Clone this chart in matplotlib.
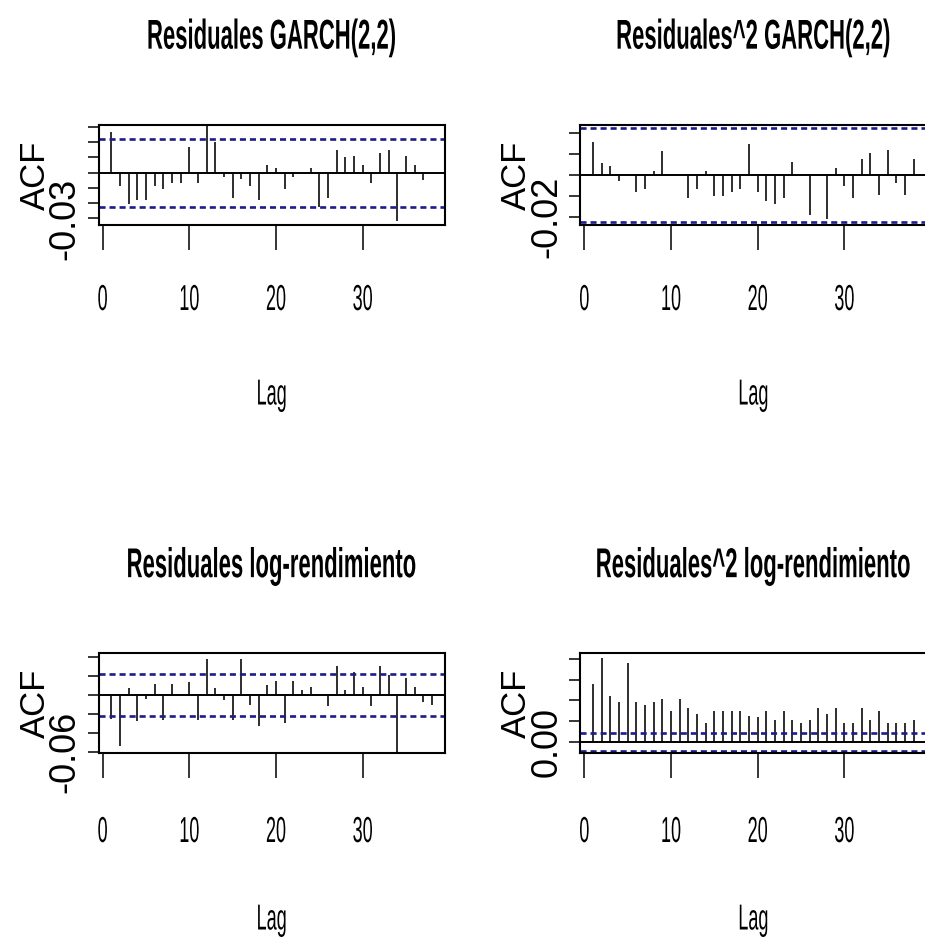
import matplotlib
matplotlib.use("Agg")
import matplotlib.pyplot as plt
from matplotlib.patheffects import AbstractPathEffect
from matplotlib.transforms import Affine2D, Bbox

plt.rcParams['font.family'] = ['Liberation Sans', 'DejaVu Sans']

# ---------------- data ----------------
lags = list(range(1, 39))

acf_res_garch = [0.0264, -0.0088, -0.0204, -0.0182, -0.0182, -0.0088, -0.0105, -0.0066,
                 -0.0066, 0.0169, -0.0066, 0.0315, 0.0204, -0.0030, -0.0165, -0.0044,
                 -0.0088, -0.0182, 0.0048, 0.0030, -0.0105, -0.0030, 0.0005, 0.0030,
                 -0.0226, -0.0165, 0.0147, 0.0103, 0.0110, 0.0050, -0.0066, 0.0127,
                 0.0150, -0.0318, 0.0110, 0.0048, -0.0048, 0.0003]

acf_res2_garch = [0.0157, 0.0059, 0.0043, -0.0027, 0.0003, -0.0083, -0.0069, 0.0019,
                  0.0115, -0.0002, 0.0002, -0.0112, -0.0069, 0.0019, -0.0099, -0.0099,
                  -0.0083, -0.0069, 0.0147, -0.0080, -0.0122, -0.0138, -0.0109, 0.0062,
                  0.0002, -0.0192, -0.0002, -0.0210, 0.0032, -0.0053, -0.0109, 0.0075,
                  0.0104, -0.0096, 0.0118, -0.0037, -0.0096, 0.0075]

acf_res_log = [-0.0250, -0.0537, 0.0077, -0.0274, -0.0046, 0.0112, -0.0263, 0.0112,
               0.0003, 0.0140, -0.0263, 0.0382, 0.0077, -0.0053, -0.0263, 0.0382,
               -0.0109, -0.0326, 0.0108, 0.0144, -0.0295, 0.0144, 0.0053, 0.0081,
               0.0002, -0.0112, 0.0302, 0.0053, 0.0239, 0.0081, -0.0112, 0.0302,
               0.0210, -0.0610, 0.0175, 0.0081, -0.0077, -0.0105]

acf_res2_log = [0.139, 0.201, 0.110, 0.096, 0.190, 0.096, 0.088, 0.096, 0.104, 0.074,
                0.104, 0.082, 0.068, 0.046, 0.074, 0.074, 0.074, 0.074, 0.062, 0.060,
                0.074, 0.052, 0.074, 0.052, 0.044, 0.052, 0.082, 0.068, 0.082, 0.046,
                0.046, 0.082, 0.052, 0.074, 0.046, 0.046, 0.046, 0.052]

ci_bound = 0.0222

titles = ["Residuales GARCH(2,2)", "Residuales^2 GARCH(2,2)",
          "Residuales log-rendimiento", "Residuales^2 log-rendimiento"]

yticks_res_garch = [-0.03, -0.02, -0.01, 0.00, 0.01, 0.02, 0.03]
yticks_res2_garch = [-0.02, -0.01, 0.00, 0.01, 0.02]
yticks_res_log = [-0.06, -0.04, -0.02, 0.00, 0.02, 0.04]
yticks_res2_log = [0.00, 0.05, 0.10, 0.15, 0.20]

ylims = [(-0.0345, 0.0315), (-0.0240, 0.0240), (-0.0614, 0.0446), (-0.028, 0.215)]
xticks = [0, 10, 20, 30]
x_label = "Lag"
y_label = "ACF"

series = [acf_res_garch, acf_res2_garch, acf_res_log, acf_res2_log]
yticks_all = [yticks_res_garch, yticks_res2_garch, yticks_res_log, yticks_res2_log]


# ------- tall, narrow text (as in the reference): small font stretched upward -------
class Stretch(AbstractPathEffect):
    def __init__(self, sy):
        super().__init__()
        self.sy = sy

    def draw_path(self, renderer, gc, tpath, affine, rgbFace=None):
        by = affine.get_matrix()[1, 2]          # baseline in display coords
        aff = affine + Affine2D().translate(0, -by).scale(1.0, self.sy).translate(0, by)
        renderer.draw_path(gc, tpath, aff, rgbFace)


def stretch(text, sy):
    text.set_path_effects([Stretch(sy)])
    text.set_va('baseline')
    orig = text.get_window_extent

    def extent(renderer=None, dpi=None):
        bb = orig(renderer, dpi)
        by = text.get_transform().transform(text.get_unitless_position())[1]
        return Bbox.from_extents(bb.x0, by + (bb.y0 - by) * sy,
                                 bb.x1, by + (bb.y1 - by) * sy)

    text.get_window_extent = extent


W, H = 925, 943
fig = plt.figure(figsize=(W / 100, H / 100), dpi=100)

lag_px = 8.667
nlag = len(lags)
ext = 0.04 * (nlag - 1)
xlim = (lags[0] - ext, lags[-1] + ext)
ax_w = (xlim[1] - xlim[0]) * lag_px
ax_h = 100.6
# left edge (px), top edge (px)
boxes = [(98.5, 124.7), (580.2, 124.7), (98.5, 652.7), (580.2, 652.7)]
# baselines (px from top) of title, tick labels and x label for each row
title_base = {124.7: 57.0, 652.7: 585.5}
tick_base = {124.7: 310.0, 652.7: 842.0}
lab_base = {124.7: 404.5, 652.7: 929.5}

ci_color = '#1C1C8A'
PX = 72 / 100  # points per pixel

for i, (left, top) in enumerate(boxes):
    bottom = top + ax_h
    ax = fig.add_axes([left / W, (H - bottom) / H, ax_w / W, ax_h / H])
    vals = series[i]
    ax.vlines(lags, 0, vals, colors='black', linewidth=1.15)
    ax.axhline(0, color='black', linewidth=1.4)
    for s in (ci_bound, -ci_bound):
        ax.axhline(s, color=ci_color, linewidth=1.9, linestyle=(0, (2.3, 1.5)))
    ax.set_xlim(*xlim)
    ax.set_ylim(*ylims[i])
    for sp in ax.spines.values():
        sp.set_linewidth(1.5)

    yt = yticks_all[i]
    ax.set_yticks(yt)
    ax.set_yticklabels([f"{yt[0]:.2f}"] + [""] * (len(yt) - 1),
                       rotation=90, va='center', fontsize=26)
    ax.tick_params(axis='y', length=8, width=1.1, pad=3.5)

    tick_len_px = 25
    ax.set_xticks(xticks)
    ax.set_xticklabels([str(t) for t in xticks], fontsize=13)
    ax.tick_params(axis='x', length=tick_len_px * PX, width=1.1,
                   pad=(tick_base[top] - bottom - tick_len_px) * PX)
    for lab in ax.get_xticklabels():
        stretch(lab, 2.0)

    ax.set_xlabel(x_label, fontsize=13)
    stretch(ax.xaxis.label, 2.0)
    ax.xaxis.set_label_coords(0.5, -(lab_base[top] - bottom) / ax_h)

    ax.set_ylabel(y_label, fontsize=25, va='center')
    ax.yaxis.set_label_coords((35 - 98.5) / ax_w, 0.5)

    ax.set_title(titles[i], fontsize=15.9, fontweight='bold',
                 y=1 + (top - title_base[top]) / ax_h)
    stretch(ax.title, 1.887)

fig.savefig("out.png", dpi=100)
